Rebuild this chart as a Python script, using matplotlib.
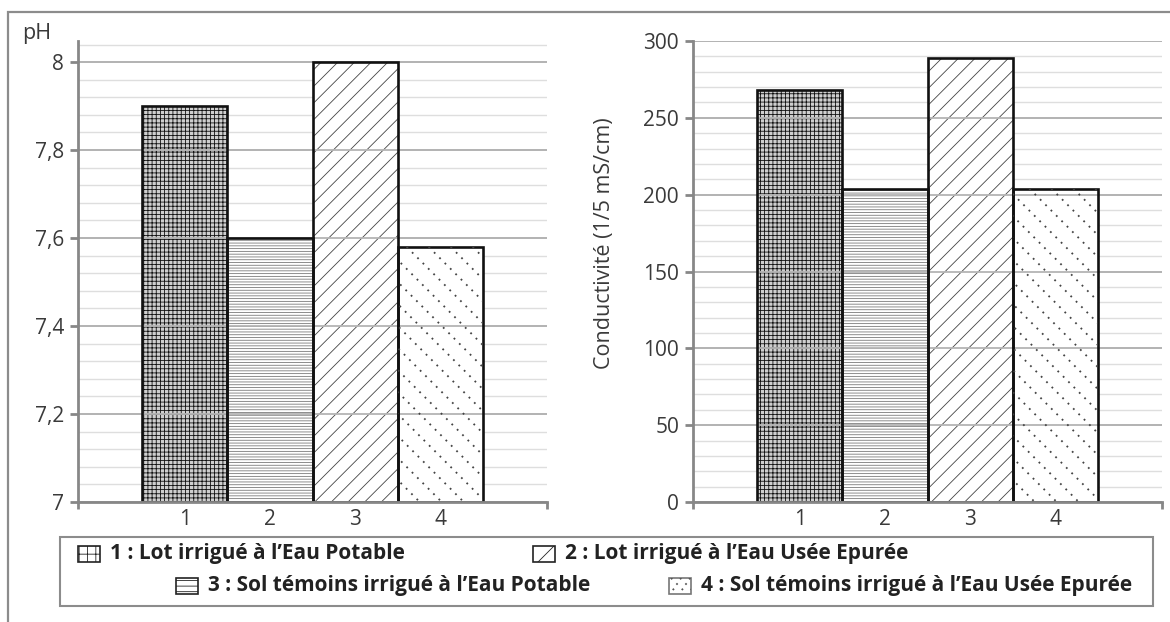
import matplotlib
matplotlib.use("Agg")
import matplotlib.pyplot as plt
import numpy as np
from matplotlib.patches import Rectangle
from matplotlib.lines import Line2D
from matplotlib.transforms import IdentityTransform
from matplotlib.ticker import MultipleLocator, FixedLocator

# ---------------- data ----------------
categories = ["1", "2", "3", "4"]
ph_values = [7.90, 7.60, 8.00, 7.58]
cond_values = [268, 204, 289, 204]
ph_ticks = [7.0, 7.2, 7.4, 7.6, 7.8, 8.0]
ph_tick_labels = ["7", "7,2", "7,4", "7,6", "7,8", "8"]
cond_ticks = [0, 50, 100, 150, 200, 250, 300]
cond_tick_labels = ["0", "50", "100", "150", "200", "250", "300"]
ph_label = "pH"
cond_label = "Conductivité (1/5 mS/cm)"
legend_labels = [
    "1 : Lot irrigué à l\u2019Eau Potable",
    "2 : Lot irrigué à l\u2019Eau Usée Epurée",
    "3 : Sol témoins irrigué à l\u2019Eau Potable",
    "4 : Sol témoins irrigué à l\u2019Eau Usée Epurée",
]

# ---------------- style ----------------
W, H = 1170, 622
DPI = 100
FONT = "Open Sans"
plt.rcParams["font.family"] = [FONT, "DejaVu Sans"]
plt.rcParams["hatch.linewidth"] = 0.6
AXC = "#878787"
TXT = "#3a3a3a"

# bar pattern styles (hatch, hatch colour, face colour); None = dotted diagonals
bar_styles = [("++++", "#111111", "#cfcfcf"), ("------", "#7a7a7a", "white"),
              ("//", "#444444", "white"), (None, "#444444", "white")]

fig = plt.figure(figsize=(W / DPI, H / DPI), dpi=DPI)


def px_axes(x0, y_top, x1, y_bot):
    return [x0 / W, 1 - y_bot / H, (x1 - x0) / W, (y_bot - y_top) / H]


def dotted_diagonals(patch, bbox, spacing=22, color="#444444"):
    (x0, y0), (x1, y1) = bbox
    h = y1 - y0
    for c in np.arange(x0 - h, x1 + spacing, spacing):
        ln = Line2D([c, c + h], [y1, y0], transform=IdentityTransform(),
                    color=color, lw=1.3, linestyle=(0, (1, 3.2)), zorder=3)
        ln.set_clip_path(patch)
        fig.add_artist(ln)


def make_panel(rect, values, base, top, ticks, tick_labels, minor_step):
    ax = fig.add_axes(rect)
    x = np.arange(1, len(values) + 1)
    heights = np.array(values) - base
    ax.set_xlim(-0.25, len(values) + 1.25)
    ax.set_ylim(base, top)
    # hatched fill layer
    fills = ax.bar(x, heights, bottom=base, width=1.0, color="white", linewidth=0, zorder=1)
    for p, (hatch, hc, fc) in zip(fills, bar_styles):
        p.set_edgecolor(hc)
        p.set_facecolor(fc)
        if hatch:
            p.set_hatch(hatch)
    # major gridlines shown through bars
    for t in ticks[1:]:
        ax.axhline(t, color="#b4b4b4", lw=1.3, zorder=1.5)
    # outlines
    ax.bar(x, heights, bottom=base, width=1.0, fill=False, edgecolor="#111111", linewidth=1.9, zorder=2)

    ax.set_axisbelow(True)
    ax.yaxis.set_major_locator(FixedLocator(ticks))
    ax.set_yticklabels(tick_labels)
    ax.yaxis.set_minor_locator(MultipleLocator(minor_step))
    ax.grid(axis="y", which="minor", color="#dedede", lw=1.0)
    ax.grid(axis="y", which="major", color="#b4b4b4", lw=1.3)
    ax.set_xticks(x)
    ax.set_xticklabels(categories)
    ax.xaxis.set_minor_locator(FixedLocator(list(ax.get_xlim())))
    for s in ["top", "right"]:
        ax.spines[s].set_visible(False)
    for s in ["left", "bottom"]:
        ax.spines[s].set_color(AXC)
        ax.spines[s].set_linewidth(2.0)
        ax.spines[s].set_capstyle("projecting")
    ax.tick_params(axis="y", which="major", length=6, width=2, color=AXC,
                   labelsize=15, labelcolor=TXT, pad=4)
    ax.tick_params(axis="y", which="minor", length=0)
    ax.tick_params(axis="x", which="major", length=0, labelsize=15, labelcolor=TXT, pad=5)
    ax.tick_params(axis="x", which="minor", length=5, width=2, color=AXC)
    return ax, fills


ax1, fills1 = make_panel(px_axes(78, 41, 547, 502), ph_values, 7.0, 8.048,
                         ph_ticks, ph_tick_labels, 0.04)
ax2, fills2 = make_panel(px_axes(693, 41, 1162, 502), cond_values, 0, 300,
                         cond_ticks, cond_tick_labels, 10)

# dotted diagonal pattern for 4th bar
for ax, fills in [(ax1, fills1), (ax2, fills2)]:
    p = fills[3]
    bb = ax.transData.transform([[p.get_x(), p.get_y()],
                                 [p.get_x() + p.get_width(), p.get_y() + p.get_height()]])
    dotted_diagonals(p, bb)

# axis labels
fig.text(22 / W, 1 - 33 / H, ph_label, ha="left", va="center", fontsize=15.5, color=TXT)
fig.text(604 / W, 1 - 243 / H, cond_label, ha="center", va="center", rotation=90,
         fontsize=15.5, color=TXT)

# outer frame
fig.add_artist(Rectangle((8 / W, -0.1), 1.5, 1 - 12 / H + 0.1, transform=fig.transFigure,
                         fill=False, edgecolor="#8c8c8c", lw=1.6))

# legend box
lx0, ly0, lx1, ly1 = 60, 537, 1153, 606
fig.add_artist(Rectangle((lx0 / W, 1 - ly1 / H), (lx1 - lx0) / W, (ly1 - ly0) / H,
                         transform=fig.transFigure, fill=False, edgecolor="#8c8c8c", lw=1.5))

legend_pos = [(78, 554), (533, 554), (176, 586), (669, 586)]
handle_styles = [("++", "#111111"), ("/", "#333333"), ("---", "#555555"), (None, "#555555")]
for (hx, hy), label, (hatch, hc) in zip(legend_pos, legend_labels, handle_styles):
    hw, hh = 22, 16
    r = Rectangle((hx / W, 1 - (hy + hh / 2) / H), hw / W, hh / H, transform=fig.transFigure,
                  facecolor="white", edgecolor="#222222", lw=1.2)
    if hatch:
        r.set_hatch(hatch)
    else:
        r.set_edgecolor("#777777")
    fig.add_artist(r)
    if hatch is None:
        dotted_diagonals(r, [[hx, H - (hy + hh / 2)], [hx + hw, H - (hy - hh / 2)]], spacing=9,
                         color="#555555")
    fig.text((hx + hw + 10) / W, 1 - hy / H, label, ha="left", va="center",
             fontsize=15, fontweight="bold", color="#222222")

fig.savefig("out.png", dpi=DPI)
